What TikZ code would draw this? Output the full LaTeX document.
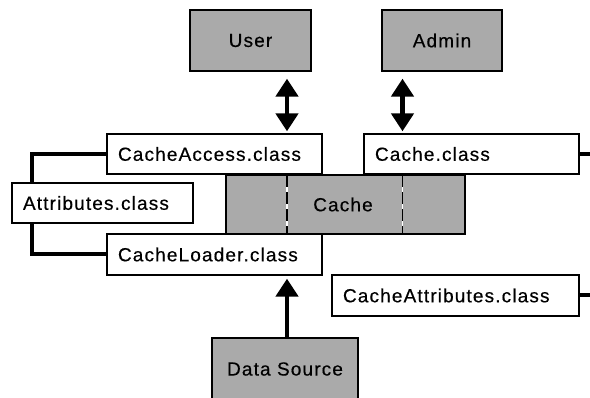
\documentclass[tikz,border=0pt]{standalone}
\usepackage{fontspec}
\setmainfont{Liberation Sans}[LetterSpace=6,FakeBold=0.4]
\usetikzlibrary{arrows.meta}
\definecolor{boxgray}{RGB}{170,170,170}
\begin{document}
\begin{tikzpicture}[x=1pt,y=-1pt,
  font=\fontsize{19}{21}\selectfont,
  graybox/.style={draw=black,line width=1.3pt,fill=boxgray,inner sep=0pt},
  classbox/.style={draw=black,line width=1.3pt,fill=white,inner xsep=11pt,inner ysep=0pt,align=left},
  thick line/.style={line width=4pt},
  arr/.style={line width=4.5pt,-{Triangle[width=22pt,length=18pt]}},
  dblarr/.style={line width=4.5pt,{Triangle[width=22pt,length=18pt]}-{Triangle[width=22pt,length=18pt]}}
]
\useasboundingbox (0,0) rectangle (590,398);
\coordinate (d1) at (287,0);
\coordinate (d2) at (402.5,0);
\coordinate (edge) at (590,0);
\coordinate (brk) at (32,0);

% gray boxes
\node[graybox,minimum width=121pt,minimum height=61pt] (user) at (250.5,40.5) {User};
\node[graybox,minimum width=120pt,minimum height=61pt] (admin) at (442,40.5) {Admin};
\node[graybox,minimum width=239pt,minimum height=59pt] (cache) at (345.5,204.5) {\hspace*{-5pt}Cache};
\node[graybox,minimum width=146pt,minimum height=62pt] (ds) at (285,369) {Data Source};

% dashed dividers in the cache box
\draw[white,line width=1.5pt] (cache.north -| d1) -- (cache.south -| d1);
\draw[black,line width=1.5pt,dash pattern=on 12pt off 5pt,dash phase=-1pt] (cache.north -| d1) -- (cache.south -| d1);
\draw[white,line width=1.5pt] (cache.north -| d2) -- (cache.south -| d2);
\draw[black,line width=1.5pt,dash pattern=on 12pt off 5pt,dash phase=-1pt] (cache.north -| d2) -- (cache.south -| d2);

% class boxes
\node[classbox,text width=193pt,minimum height=40pt] (access) at (214.5,154) {CacheAccess.class};
\node[classbox,text width=193pt,minimum height=40pt] (cclass) at (471.5,154) {Cache.class};
\node[classbox,text width=159pt,minimum height=40pt] (attr) at (102.5,203) {Attributes.class};
\node[classbox,text width=193pt,minimum height=41pt] (loader) at (214.5,254.5) {CacheLoader.class};
\node[classbox,text width=225pt,minimum height=41pt] (cattr) at (455.5,295.5) {CacheAttributes.class};

% bracket connectors
\draw[thick line] (access.west) -| (attr.north -| brk);
\draw[thick line] (attr.south -| brk) |- (loader.west);

% stubs to the right edge
\draw[thick line] (cclass.east) -- (cclass.east -| edge);
\draw[thick line] (cattr.east) -- (cattr.east -| edge);

% arrows
\draw[dblarr,shorten <=7pt,shorten >=2pt] (user.south -| d1) -- (access.north -| d1);
\draw[dblarr,shorten <=7pt,shorten >=2pt] (admin.south -| d2) -- (cclass.north -| d2);
\draw[arr,shorten >=3pt] (ds.north -| d1) -- (loader.south -| d1);
\end{tikzpicture}
\end{document}
